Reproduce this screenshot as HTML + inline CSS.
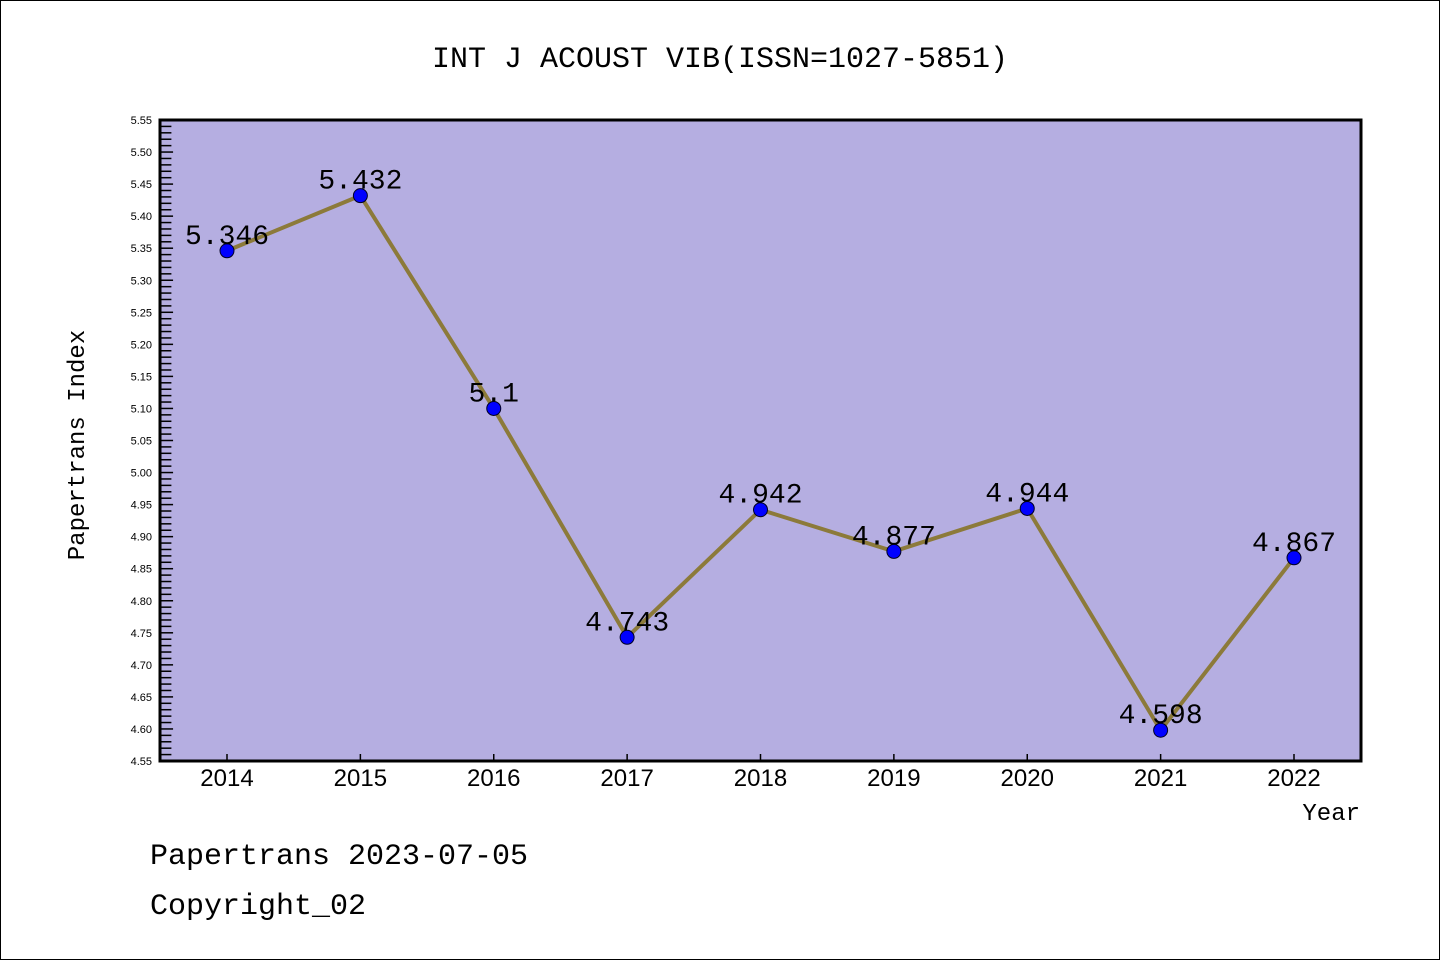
<!DOCTYPE html>
<html><head><meta charset="utf-8"><style>
body{margin:0;background:#fff;}
svg{display:block;}
</style></head><body>
<svg id="chart" width="1440" height="960" xmlns="http://www.w3.org/2000/svg">
<rect x="0.5" y="0.5" width="1439" height="959" fill="#fff" stroke="#000" stroke-width="1"/>
<text x="720" y="67" text-anchor="middle" font-family="'Liberation Mono','Noto Sans CJK SC',monospace" font-size="30">INT J ACOUST VIB(ISSN=1027-5851)</text>
<rect x="160" y="120" width="1201" height="641" fill="#b5aee1"/>
<g id="axes"></g>
<g id="series"></g>
<rect x="160" y="120" width="1201" height="641" fill="none" stroke="#000" stroke-width="3"/>
<text transform="translate(84,445) rotate(-90)" text-anchor="middle" font-family="'Liberation Mono',monospace" font-size="24">Papertrans Index</text>
<text x="1360" y="820" text-anchor="end" font-family="'Liberation Mono',monospace" font-size="24">Year</text>
<text x="150" y="864" font-family="'Liberation Mono',monospace" font-size="30">Papertrans 2023-07-05</text>
<text x="150" y="914" font-family="'Liberation Mono',monospace" font-size="30">Copyright_02</text>
</svg>
<script>
const years = ["2014","2015","2016","2017","2018","2019","2020","2021","2022"];
const values = [5.346,5.432,5.1,4.743,4.942,4.877,4.944,4.598,4.867];
const valueLabels = ["5.346","5.432","5.1","4.743","4.942","4.877","4.944","4.598","4.867"];
const yMin = 4.55, yMax = 5.55;
const NS = "http://www.w3.org/2000/svg";
function xS(i){return 227 + i*(1294-227)/(years.length-1);}
function yS(v){return 761 - (v-yMin)/(yMax-yMin)*641;}
function mk(tag, attrs, parent){const e=document.createElementNS(NS,tag);for(const k in attrs)e.setAttribute(k,attrs[k]);parent.appendChild(e);return e;}
const axes=document.getElementById('axes'), series=document.getElementById('series');
for(let k=0;k<=100;k++){
  const v=yMin+k*0.01, y=yS(v), major=k%5===0;
  const t=mk('line',{x1:160,x2:160+(major?28/3*1.4:16/3*1.2+5),y1:y,y2:y,stroke:'#000','stroke-width':1.5},axes);
  
  
  if(major){
    const l=mk('text',{x:152,y:y+4,'text-anchor':'end','font-family':"'Liberation Sans',sans-serif",'font-size':11},axes);
    l.textContent=v.toFixed(2);
    
    
  }
}
years.forEach((yr,i)=>{
  const x=xS(i);
  const t=mk('line',{x1:x,x2:x,y1:761,y2:754,stroke:'#000','stroke-width':1.5},axes);
  
  
  const l=mk('text',{x:x,y:786,'text-anchor':'middle','font-family':"'Liberation Sans',sans-serif",'font-size':24},axes);
  l.textContent=yr;
  
  
});
const pl=mk('polyline',{points:values.map((v,i)=>xS(i)+','+yS(v)).join(' '),fill:'none',stroke:'#8c7a3a','stroke-width':4},series);


values.forEach((v,i)=>{
  const c=mk('circle',{cx:xS(i),cy:yS(v),r:7,fill:'#0000ff',stroke:'#000022','stroke-width':1},series);
  
  
  const l=mk('text',{x:xS(i),y:yS(v)-7,'text-anchor':'middle','font-family':"'Liberation Mono',monospace",'font-size':28},series);
  l.textContent=valueLabels[i];
  
  
});
</script>
</body></html>
